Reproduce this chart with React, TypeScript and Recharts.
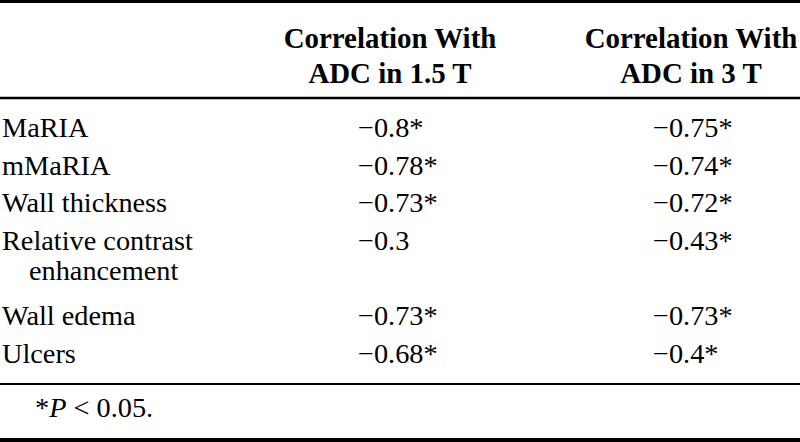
import { ScatterChart, Scatter, XAxis, YAxis, ReferenceLine } from 'recharts';

const factors = ['MaRIA', 'mMaRIA', 'Wall thickness', 'Relative contrast|enhancement', 'Wall edema', 'Ulcers'];
const corr15 = [-0.8, -0.78, -0.73, -0.3, -0.73, -0.68];
const sig15 = [true, true, true, false, true, true];
const corr3 = [-0.75, -0.74, -0.72, -0.43, -0.73, -0.4];
const sig3 = [true, true, true, true, true, true];
const headers = [
  ['Correlation With', 'ADC in 1.5 T'],
  ['Correlation With', 'ADC in 3 T']
];
const footMark = '*';
const footVar = 'P';
const footRest = ' < 0.05.';

const SERIF = '"Liberation Serif", "Times New Roman", serif';
const BODY = 28.3;
const HEAD = 28.9;
const textStyle = { fontFamily: SERIF, fontSize: BODY };

// each row starts on the next free text line (wrapped labels take two)
const labelLines = factors.map(f => f.split('|'));
const rowLine: number[] = [];
let acc = 0;
labelLines.forEach(l => {
  rowLine.push(acc);
  acc += l.length;
});
const yDomain = [-0.8, acc - 1 + 0.8];

const fmt = (v: number, sig: boolean) => `${v < 0 ? '\u2212' : ''}${Math.abs(v)}${sig ? '*' : ''}`;

const rows15 = factors.map((f, i) => ({ factor: f, line: rowLine[i], col: 1, text: fmt(corr15[i], sig15[i]) }));
const rows3 = factors.map((f, i) => ({ factor: f, line: rowLine[i], col: 2, text: fmt(corr3[i], sig3[i]) }));

const valueShape = (dx: number) => (props: any) => (
  <text x={props.cx + dx} y={props.cy + 9} textAnchor="start" style={textStyle} fill="#000">
    {props.payload.text}
  </text>
);

const HeaderTick = (props: any) => {
  const lines = headers[props.index] || [];
  return (
    <text
      x={props.x}
      y={props.y}
      textAnchor="middle"
      style={{ fontFamily: SERIF, fontSize: HEAD, fontWeight: 'bold' }}
      fill="#000"
    >
      <tspan x={props.x} dy={-50}>{lines[0]}</tspan>
      <tspan x={props.x} dy={35}>{lines[1]}</tspan>
    </text>
  );
};

const FactorTick = (props: any) => {
  const idx = rowLine.indexOf(props.payload.value);
  const lines = labelLines[idx] || [];
  return (
    <text x={props.x} y={props.y + 9} textAnchor="start" style={textStyle} fill="#000">
      {lines.map((l, i) => (
        <tspan key={i} x={props.x + (i > 0 ? 27 : 0)} dy={i > 0 ? 30 : 0}>{l}</tspan>
      ))}
    </text>
  );
};

const FootLabel = (props: any) => {
  const vb = props.viewBox || { y: 0 };
  return (
    <text x={35} y={vb.y + 33} style={textStyle} fill="#000">
      <tspan>{footMark}</tspan>
      <tspan style={{ fontStyle: 'italic' }}>{footVar}</tspan>
      <tspan>{footRest}</tspan>
    </text>
  );
};

export default function App() {
  return (
    <div
      style={{
        width: 800,
        height: 442,
        boxSizing: 'border-box',
        borderTop: '3px solid #000',
        borderBottom: '4px solid #000',
        background: '#fff'
      }}
    >
      <style>{'body{margin:0}'}</style>
      <ScatterChart width={800} height={435} margin={{ top: 0, right: 0, bottom: 54, left: 0 }}>
        <XAxis
          type="number"
          dataKey="col"
          orientation="top"
          height={95}
          domain={[1, 2]}
          ticks={[1, 2]}
          interval={0}
          padding={{ left: 390, right: 109 }}
          tickLine={false}
          tickSize={0}
          tickMargin={0}
          axisLine={{ stroke: '#000', strokeWidth: 2.5 }}
          tick={<HeaderTick />}
        />
        <YAxis
          type="number"
          dataKey="line"
          domain={yDomain}
          reversed
          mirror
          ticks={rowLine}
          interval={0}
          axisLine={false}
          tickLine={false}
          tickSize={0}
          tickMargin={2}
          tick={<FactorTick />}
        />
        <Scatter data={rows15} shape={valueShape(-32)} isAnimationActive={false} />
        <Scatter data={rows3} shape={valueShape(-38)} isAnimationActive={false} />
        <ReferenceLine y={yDomain[1]} stroke="#000" strokeWidth={2} label={<FootLabel />} />
      </ScatterChart>
    </div>
  );
}
